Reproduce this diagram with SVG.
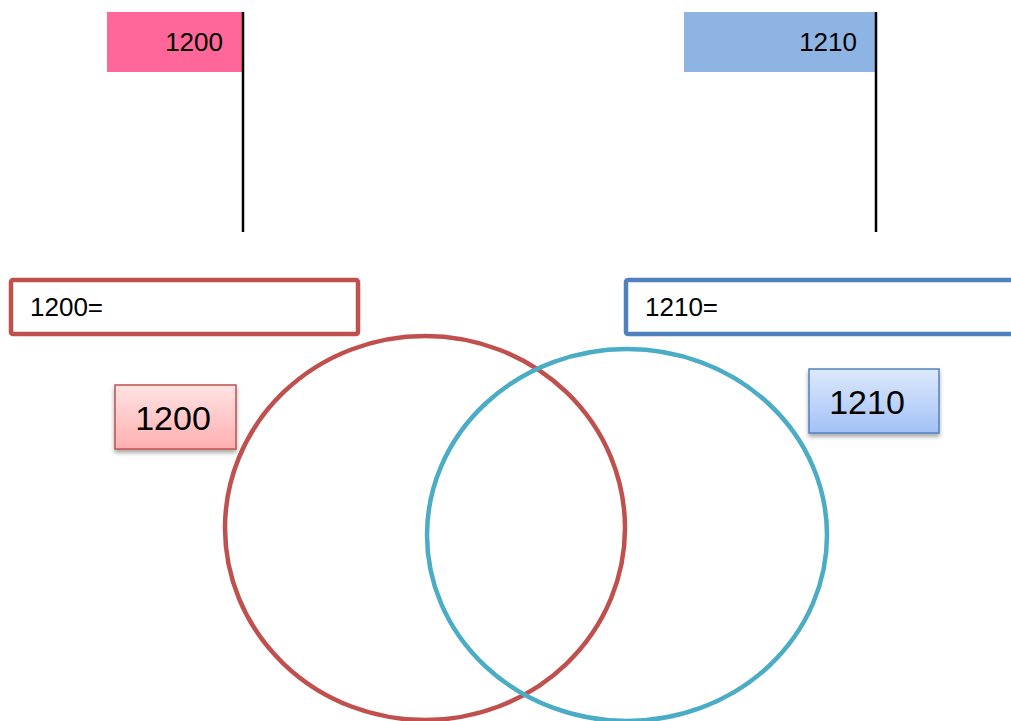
<svg xmlns="http://www.w3.org/2000/svg" width="1011" height="721" viewBox="0 0 1011 721">
<style>
text{font-family:"Liberation Sans",Arial,sans-serif;fill:#000}
.pole{stroke:#000;stroke-width:2.5}
.big{fill:#fff;stroke-width:4.5}
</style>
<defs>
<linearGradient id="gr" x1="0" y1="0" x2="0" y2="1"><stop offset="0" stop-color="#FFE3E3"/><stop offset="1" stop-color="#FFAFAF"/></linearGradient>
<linearGradient id="gb" x1="0" y1="0" x2="0" y2="1"><stop offset="0" stop-color="#DDE9FC"/><stop offset="1" stop-color="#A3C1F5"/></linearGradient>
<filter id="sh" x="-20%" y="-20%" width="140%" height="150%"><feDropShadow dx="0" dy="3" stdDeviation="2" flood-color="#000" flood-opacity="0.35"/></filter>
</defs>
<rect width="1011" height="721" fill="#fff"/>
<g id="flag1200">
<rect x="107" y="12" width="136" height="60" fill="#FF6699"/>
<line class="pole" x1="243" y1="12" x2="243" y2="232"/>
<text x="223" y="51" font-size="26" text-anchor="end">1200</text>
</g>
<g id="flag1210">
<rect x="684" y="12" width="192" height="60" fill="#8EB4E3"/>
<line class="pole" x1="876" y1="12" x2="876" y2="232"/>
<text x="857" y="51" font-size="26" text-anchor="end">1210</text>
</g>
<g id="box1200eq">
<rect class="big" x="11" y="280" width="347" height="54" rx="2" stroke="#C0504D"/>
<text x="30" y="316" font-size="26">1200=</text>
</g>
<g id="box1210eq">
<rect class="big" x="626" y="280" width="400" height="54" rx="2" stroke="#4F81BD"/>
<text x="645" y="316" font-size="26">1210=</text>
</g>
<g id="circles">
<ellipse cx="425" cy="528" rx="200" ry="192" fill="none" stroke="#C0504D" stroke-width="4.5"/>
<ellipse cx="627" cy="535" rx="200" ry="186" fill="none" stroke="#4BACC6" stroke-width="4.5"/>
</g>
<g id="label1200">
<rect x="115" y="385" width="121" height="64" fill="url(#gr)" stroke="#C0504D" stroke-width="1.5" filter="url(#sh)"/>
<text x="173" y="430" font-size="34" text-anchor="middle">1200</text>
</g>
<g id="label1210">
<rect x="809" y="369" width="130" height="64" fill="url(#gb)" stroke="#4F81BD" stroke-width="1.5" filter="url(#sh)"/>
<text x="867" y="414" font-size="34" text-anchor="middle">1210</text>
</g>
</svg>
